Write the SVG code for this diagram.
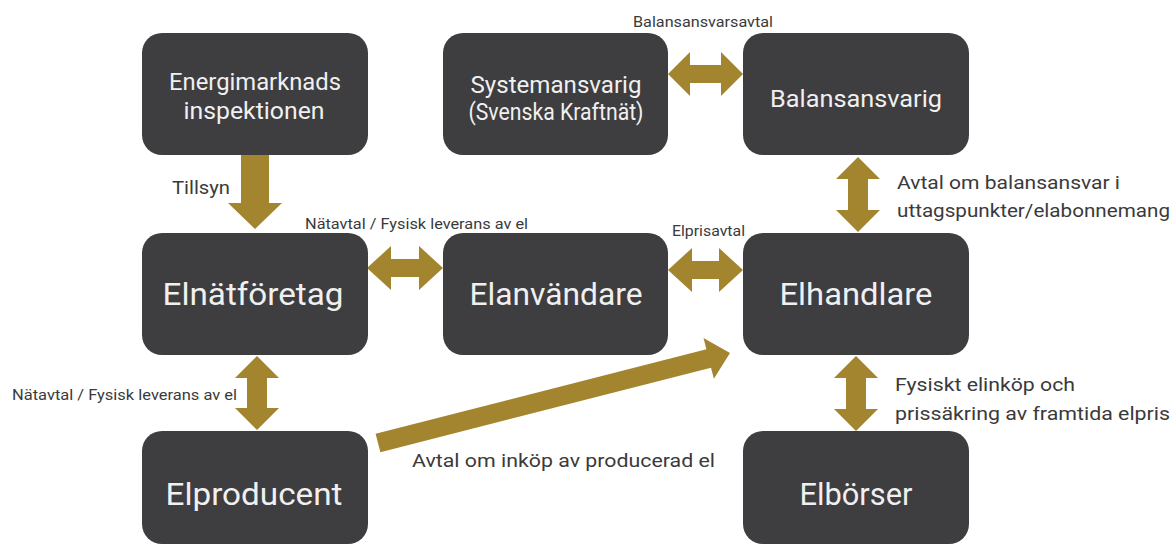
<svg xmlns="http://www.w3.org/2000/svg" width="1174" height="546" viewBox="0 0 1174 546">
<style>
.box{fill:#3e3d3f}
.arr{fill:#a4852f}
.nt{fill:#f0f0f0;font-family:Roboto,"Liberation Sans",sans-serif;text-anchor:middle}
.sm{font-size:23px}
.bg{font-size:31px;font-weight:400}
.lb{fill:#3a3a3a;font-family:Roboto,"Liberation Sans",sans-serif}
.l1{font-size:15px}
.l2{font-size:19px}
</style>
<rect width="1174" height="546" fill="#ffffff"/>
<g id="connectors">
  <polygon class="arr" points="241,155 269,155 269,203 282,203 255,229 228,203 241,203"/>
  <polygon class="arr" points="668,74 690,52 690,65 721,65 721,52 743,74 721,96 721,83 690,83 690,96"/>
  <polygon class="arr" points="367,268 391,246 391,259 419,259 419,246 443,268 419,290 419,277 391,277 391,290"/>
  <polygon class="arr" points="668,270 692,248 692,261 719,261 719,248 743,270 719,292 719,279 692,279 692,292"/>
  <polygon class="arr" points="858,157 880,179 868,179 868,210 880,210 858,232 836,210 848,210 848,179 836,179"/>
  <polygon class="arr" points="856,356 878,378 866,378 866,409 878,409 856,431 834,409 846,409 846,378 834,378"/>
  <polygon class="arr" points="257,356 279,378 267,378 267,408 279,408 257,430 235,408 247,408 247,378 235,378"/>
  <polygon class="arr" points="375.6,433.8 706.4,349.2 703.5,338.1 730,353 713.9,378.8 711,367.7 380.4,452.2"/>
</g>
<g id="n-energi"><rect class="box" x="142" y="33" width="226" height="122" rx="20"/>
  <text class="nt sm" x="255" y="90" textLength="172" lengthAdjust="spacingAndGlyphs">Energimarknads</text>
  <text class="nt sm" x="254" y="119" textLength="141" lengthAdjust="spacingAndGlyphs">inspektionen</text></g>
<g id="n-system"><rect class="box" x="443" y="33" width="225" height="122" rx="20"/>
  <text class="nt sm" x="556" y="93" textLength="171" lengthAdjust="spacingAndGlyphs">Systemansvarig</text>
  <text class="nt sm" x="556" y="120" textLength="175" lengthAdjust="spacingAndGlyphs">(Svenska Kraftnät)</text></g>
<g id="n-balans"><rect class="box" x="743" y="33" width="226" height="122" rx="20"/>
  <text class="nt sm" x="856" y="107" textLength="172" lengthAdjust="spacingAndGlyphs">Balansansvarig</text></g>
<g id="n-elnat"><rect class="box" x="142" y="233" width="226" height="122" rx="20"/>
  <text class="nt bg" x="253" y="305" textLength="181" lengthAdjust="spacingAndGlyphs">Elnätföretag</text></g>
<g id="n-elanv"><rect class="box" x="443" y="233" width="225" height="122" rx="20"/>
  <text class="nt bg" x="556" y="305" textLength="173" lengthAdjust="spacingAndGlyphs">Elanvändare</text></g>
<g id="n-elhandl"><rect class="box" x="743" y="233" width="226" height="122" rx="20"/>
  <text class="nt bg" x="856" y="305" textLength="153" lengthAdjust="spacingAndGlyphs">Elhandlare</text></g>
<g id="n-elprod"><rect class="box" x="142" y="431" width="226" height="113" rx="20"/>
  <text class="nt bg" x="254" y="505" textLength="177" lengthAdjust="spacingAndGlyphs">Elproducent</text></g>
<g id="n-elborser"><rect class="box" x="743" y="431" width="226" height="113" rx="20"/>
  <text class="nt bg" x="856" y="505" textLength="113" lengthAdjust="spacingAndGlyphs">Elbörser</text></g>
<g id="labels">
  <text class="lb l2" x="172" y="194" textLength="58" lengthAdjust="spacingAndGlyphs">Tillsyn</text>
  <text class="lb l1" x="633" y="27" textLength="140" lengthAdjust="spacingAndGlyphs">Balansansvarsavtal</text>
  <text class="lb l1" x="305" y="229" textLength="223" lengthAdjust="spacingAndGlyphs">Nätavtal / Fysisk leverans av el</text>
  <text class="lb l1" x="672" y="236" textLength="73" lengthAdjust="spacingAndGlyphs">Elprisavtal</text>
  <text class="lb l1" x="12" y="400" textLength="225" lengthAdjust="spacingAndGlyphs">Nätavtal / Fysisk leverans av el</text>
  <text class="lb l2" x="412" y="467" textLength="303" lengthAdjust="spacingAndGlyphs">Avtal om inköp av producerad el</text>
  <text class="lb l2" x="897" y="189" textLength="223" lengthAdjust="spacingAndGlyphs">Avtal om balansansvar i</text>
  <text class="lb l2" x="897" y="217" textLength="273" lengthAdjust="spacingAndGlyphs">uttagspunkter/elabonnemang</text>
  <text class="lb l2" x="895" y="391" textLength="180" lengthAdjust="spacingAndGlyphs">Fysiskt elinköp och</text>
  <text class="lb l2" x="895" y="420" textLength="275" lengthAdjust="spacingAndGlyphs">prissäkring av framtida elpris</text>
</g>
</svg>
